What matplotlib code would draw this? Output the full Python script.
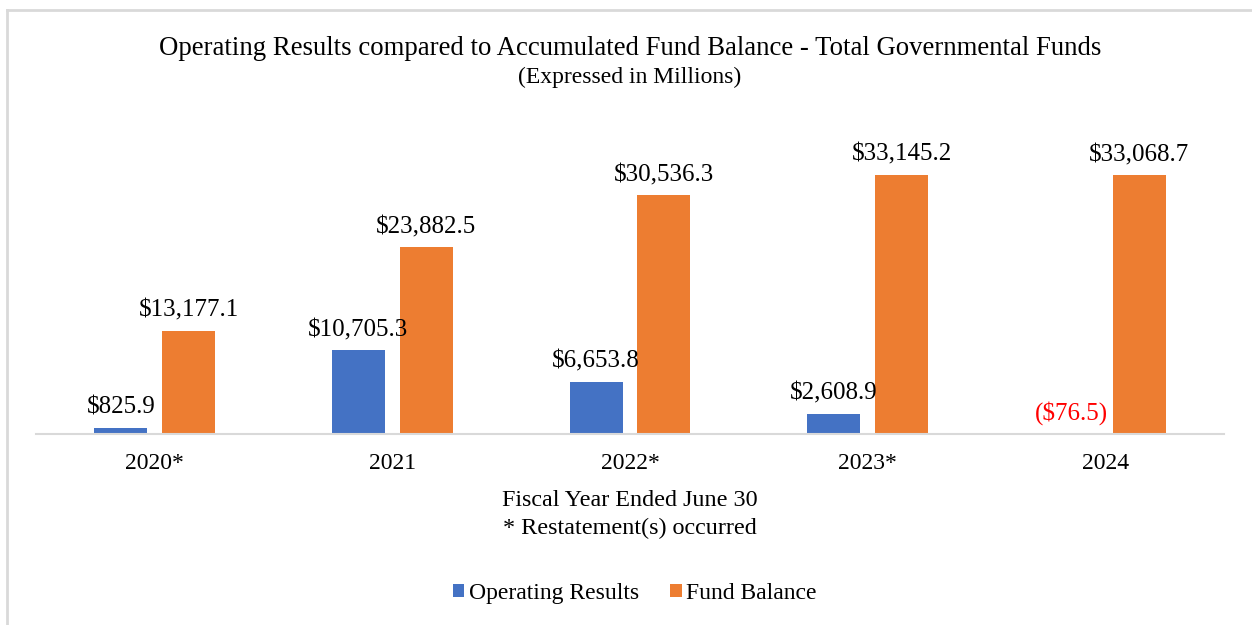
import matplotlib.pyplot as plt
import numpy as np
from matplotlib.lines import Line2D

plt.rcParams['font.family'] = ['Liberation Serif', 'DejaVu Serif']

years = ['2020*', '2021', '2022*', '2023*', '2024']
operating = [825.9, 10705.3, 6653.8, 2608.9, -76.5]
fund_balance = [13177.1, 23882.5, 30536.3, 33145.2, 33068.7]
op_labels = ['$825.9', '$10,705.3', '$6,653.8', '$2,608.9', '($76.5)']
fb_labels = ['$13,177.1', '$23,882.5', '$30,536.3', '$33,145.2', '$33,068.7']

blue = '#4472C4'
orange = '#ED7D31'

fig = plt.figure(figsize=(12.52, 6.25), dpi=100)
ax = fig.add_axes([0.0288, 0.3056, 0.9488, 0.5008])

x = np.arange(len(years))
w = 0.223
off = 0.143
ax.bar(x - off, operating, w, color=blue, label='Operating Results')
ax.bar(x + off, fund_balance, w, color=orange, label='Fund Balance')

for i in range(len(years)):
    col = 'red' if operating[i] < 0 else 'black'
    ax.annotate(op_labels[i], (x[i] - off, max(operating[i], 0)), xytext=(0, 6.5),
                textcoords='offset points', ha='center', va='bottom', fontsize=18, color=col)
    ax.annotate(fb_labels[i], (x[i] + off, fund_balance[i]), xytext=(0, 6.5),
                textcoords='offset points', ha='center', va='bottom', fontsize=18)

ax.set_xlim(-0.5, len(years) - 0.5)
ax.set_ylim(0, 40000)
ax.set_xticks(x)
ax.set_xticklabels(years, fontsize=17)
ax.tick_params(axis='x', length=0, pad=14)
ax.set_yticks([])
for s in ['top', 'right', 'left']:
    ax.spines[s].set_visible(False)
ax.spines['bottom'].set_color('#D9D9D9')
ax.spines['bottom'].set_linewidth(1.5)

fig.text(0.503, 0.922, 'Operating Results compared to Accumulated Fund Balance - Total Governmental Funds',
         ha='center', va='center', fontsize=19.25)
fig.text(0.503, 0.876, '(Expressed in Millions)', ha='center', va='center', fontsize=17)
fig.text(0.503, 0.2, 'Fiscal Year Ended June 30', ha='center', va='center', fontsize=17.4)
fig.text(0.503, 0.155, '* Restatement(s) occurred', ha='center', va='center', fontsize=17.4)

fig.legend(loc='center', bbox_to_anchor=(0.507, 0.051), ncol=2, frameon=False, fontsize=17,
           handlelength=0.5, handleheight=0.5, handletextpad=0.2, columnspacing=1.3)

# light frame (only top and left edges visible)
fig.add_artist(Line2D([0.0055, 1.0], [1 - 9.5 / 625, 1 - 9.5 / 625], color='#D9D9D9', lw=2, transform=fig.transFigure))
fig.add_artist(Line2D([0.0055, 0.0055], [0, 1 - 9.5 / 625], color='#D9D9D9', lw=2, transform=fig.transFigure))

fig.savefig('out.png', dpi=100)
